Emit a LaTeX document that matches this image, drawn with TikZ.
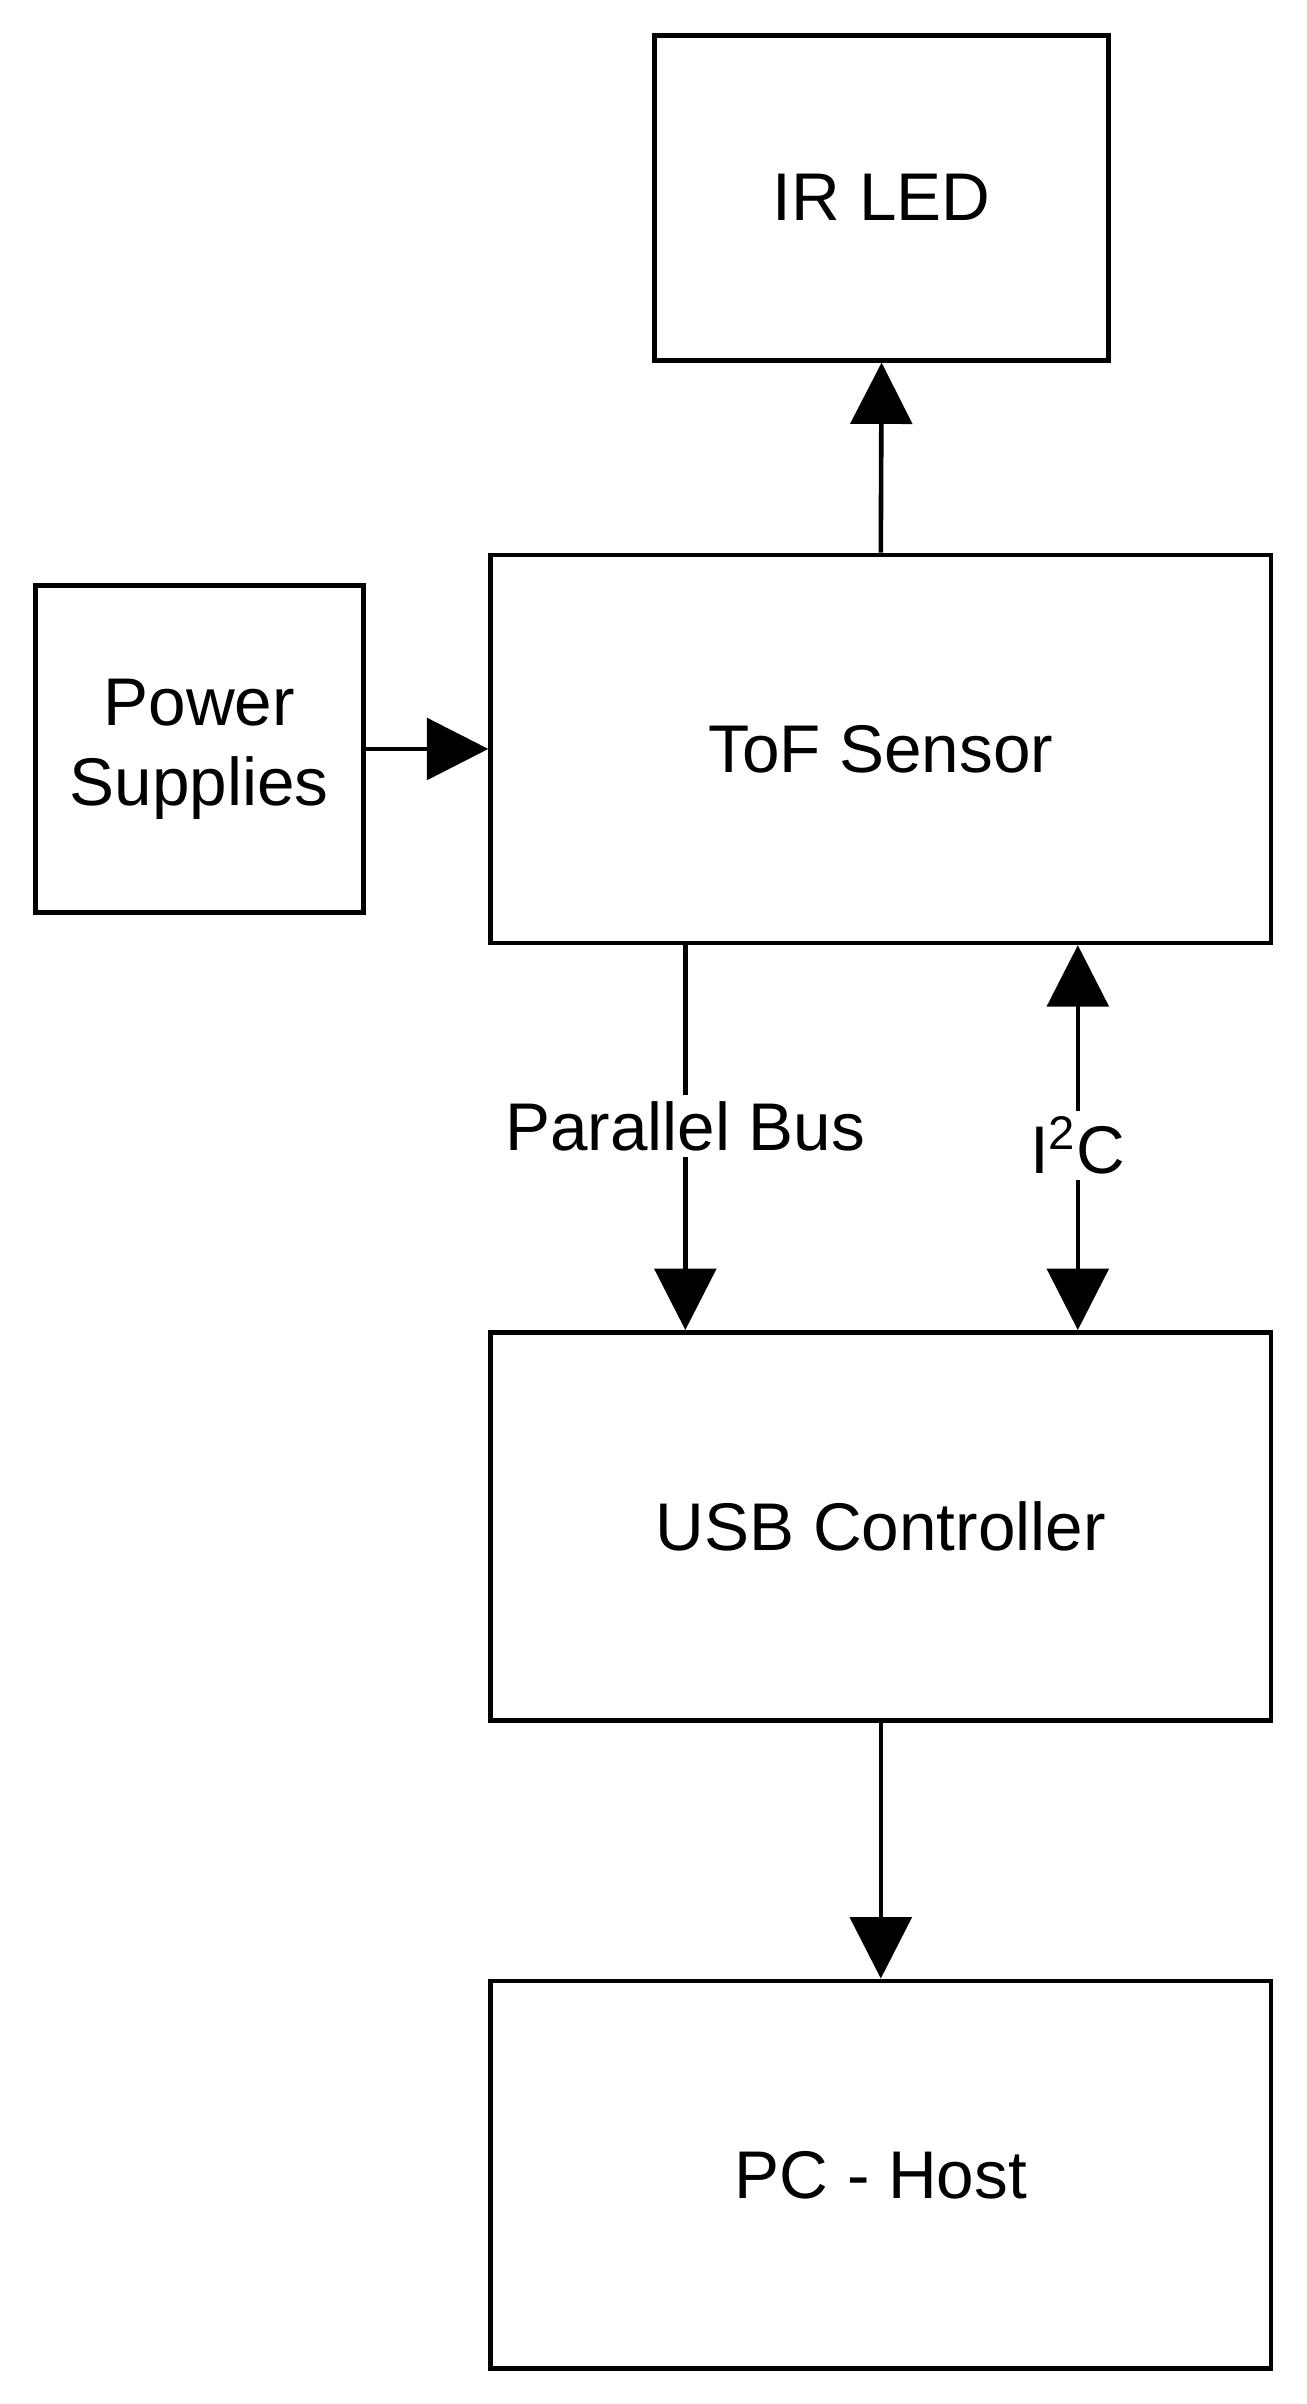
\documentclass[tikz,border=0pt]{standalone}
\usepackage{fontspec}
\setmainfont{Liberation Sans}
\usetikzlibrary{arrows.meta}
\begin{document}
\begin{tikzpicture}[x=0.5pt,y=-0.5pt,
  box/.style={draw,line width=1.5pt,inner sep=0pt,align=center,font=\fontsize{22}{26}\selectfont},
  arr/.style={line width=1.5pt,-{Triangle[width=20pt,length=20pt]}},
  lbl/.style={fill=white,inner sep=2pt,font=\fontsize{22}{26}\selectfont}]
\useasboundingbox (0,0) rectangle (852,1568);
\node[box,minimum width=148pt,minimum height=106pt] (ir) at (575,129) {IR LED};
\node[box,minimum width=254.5pt,minimum height=126.5pt] (tof) at (574.5,488.5) {ToF Sensor};
\node[box,minimum width=107pt,minimum height=106.5pt] (ps) at (130,488.5) {Power\\Supplies};
\node[box,minimum width=254.5pt,minimum height=126.5pt] (usb) at (574.5,995.5) {USB Controller};
\node[box,minimum width=254.5pt,minimum height=126.5pt] (pc) at (574.5,1418.5) {PC - Host};
\coordinate (pb) at (447,0);
\coordinate (ic) at (703,0);
\draw[arr] (tof.north) -- (ir.south);
\draw[arr] (ps.east) -- (tof.west);
\draw[arr] (usb.south) -- (pc.north);
\draw[arr] (tof.south -| pb) -- node[lbl,pos=0.47] (pbl) {Parallel Bus} (usb.north -| pb);
\draw[arr,{Triangle[width=20pt,length=20pt]}-{Triangle[width=20pt,length=20pt]}] (tof.south -| ic) -- node[lbl,pos=0.52] (icl) {I\textsuperscript{2}C} (usb.north -| ic);
\end{tikzpicture}
\end{document}
